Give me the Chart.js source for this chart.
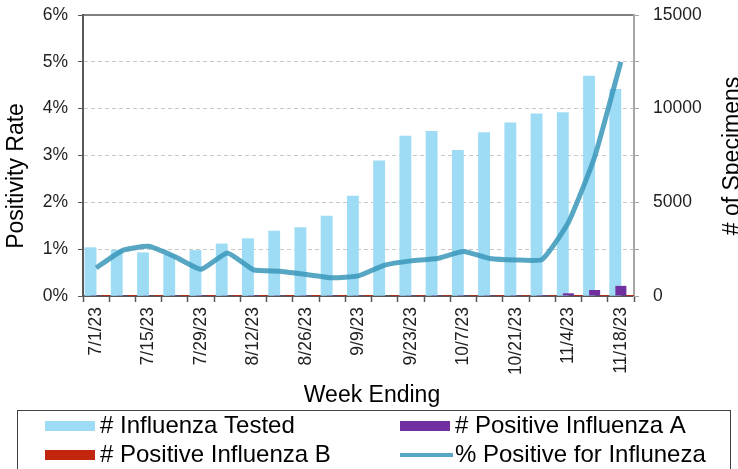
<!DOCTYPE html>
<html lang="en">
<head>
  <meta charset="UTF-8">
  <title>Influenza Positivity by Week</title>
  <script src="https://cdn.jsdelivr.net/npm/chart.js"></script>
  <style>
    body { margin: 0; background: #fff; }
    canvas { display: block; }
  </style>
</head>
<body>
  <canvas id="flu-chart" width="738" height="469"></canvas>

  <script>
    // week ending dates (every week), only every other one gets a label
    const weeks = ['7/1/23', '7/8/23', '7/15/23', '7/22/23', '7/29/23', '8/5/23', '8/12/23',
      '8/19/23', '8/26/23', '9/2/23', '9/9/23', '9/16/23', '9/23/23', '9/30/23', '10/7/23',
      '10/14/23', '10/21/23', '10/28/23', '11/4/23', '11/11/23', '11/18/23'];
    const shownWeeks = ['7/1/23', '7/15/23', '7/29/23', '8/12/23', '8/26/23', '9/9/23',
      '9/23/23', '10/7/23', '10/21/23', '11/4/23', '11/18/23'];

    const tested = [2580, 2450, 2310, 2200, 2430, 2780, 3060, 3470, 3650, 4270, 5340,
      7220, 8540, 8790, 7780, 8720, 9250, 9720, 9790, 11740, 11030];
    const positiveA = [9, 14, 15, 11, 8, 16, 10, 11, 10, 9, 14,
      30, 40, 45, 48, 44, 45, 50, 145, 320, 540];
    const positiveB = [6, 10, 10, 7, 6, 10, 7, 7, 7, 8, 9,
      18, 24, 25, 26, 26, 26, 26, 10, 20, 12];
    const percentPositive = [0.60, 0.97, 1.06, 0.84, 0.57, 0.92, 0.56, 0.53, 0.46, 0.39, 0.43,
      0.66, 0.75, 0.80, 0.95, 0.80, 0.77, 0.78, 1.57, 2.97, 5.00];

    const countLabels = [0, 5000, 10000, 15000];

    const FONT = "'Liberation Sans', Arial, sans-serif";
    Chart.defaults.font.family = FONT;
    Chart.defaults.color = '#1f1f1f';

    // keep the plot box where the original has it (no label overhang padding)
    function noOverhang(scale) {
      scale.paddingTop = 0;
      scale.paddingBottom = 0;
      scale.paddingLeft = 0;
      scale.paddingRight = 0;
    }

    // axis titles + boxed two-column legend, drawn the way the original has them
    const frameText = {
      id: 'frameText',
      afterDraw(chart) {
        const ctx = chart.ctx;
        const s = chart.scales;
        ctx.save();
        ctx.fillStyle = '#000';
        ctx.textAlign = 'center';
        ctx.textBaseline = 'alphabetic';
        ctx.font = '23px ' + FONT;

        ctx.save();
        ctx.translate(23, 176);
        ctx.rotate(-Math.PI / 2);
        ctx.fillText(s.y.options.title.text, 0, 0);
        ctx.restore();

        ctx.save();
        ctx.translate(739, 156);
        ctx.rotate(-Math.PI / 2);
        ctx.fillText(s.y1.options.title.text, 0, 0);
        ctx.restore();

        ctx.fillText(s.x.options.title.text, 372, 402);

        // legend
        ctx.strokeStyle = '#404040';
        ctx.lineWidth = 1;
        ctx.strokeRect(17.5, 410.5, 713, 80);

        const items = chart.data.datasets.filter(d => d.label);
        const colX = [45, 400];
        const rowY = [426, 455];
        ctx.font = '24px ' + FONT;
        ctx.textAlign = 'left';
        items.forEach((d, k) => {
          const x = colX[k % 2];
          const y = rowY[Math.floor(k / 2)];
          if (d.type === 'line') {
            ctx.strokeStyle = d.borderColor;
            ctx.lineWidth = 4;
            ctx.beginPath();
            ctx.moveTo(x, y);
            ctx.lineTo(x + 53, y);
            ctx.stroke();
          } else {
            ctx.fillStyle = d.backgroundColor;
            ctx.fillRect(x, y - 5, 50, 10);
          }
          ctx.fillStyle = '#000';
          ctx.fillText(d.label, x + 55, y + 6.5);
        });
        ctx.restore();
      }
    };

    new Chart(document.getElementById('flu-chart'), {
      data: {
        labels: weeks,
        datasets: [
          // tested and B are grouped (tested left of centre, B right);
          // A is not grouped so it sits on the week centre, over the tested bar
          {
            type: 'bar', label: '# Influenza Tested', data: tested,
            backgroundColor: '#9ddcf4', yAxisID: 'y1',
            barThickness: 11.2, order: 2
          },
          {
            type: 'bar', label: '# Positive Influenza A', data: positiveA,
            backgroundColor: '#7030a0', yAxisID: 'y1',
            grouped: false, maxBarThickness: 11, order: 1
          },
          {
            type: 'bar', label: '# Positive Influenza B', data: positiveB,
            backgroundColor: '#c3260f', yAxisID: 'y1',
            barThickness: 19.6, maxBarThickness: 8, order: 2
          },
          {
            type: 'line', label: '% Positive for Influneza', data: percentPositive,
            borderColor: 'rgba(58, 150, 186, 0.85)', borderWidth: 5,
            pointRadius: 0, tension: 0.15, yAxisID: 'y', order: 0
          }
        ]
      },
      options: {
        responsive: false,
        animation: false,
        layout: { padding: { top: 15, left: 0, right: 0, bottom: 0 } },
        plugins: {
          legend: { display: false },
          tooltip: { enabled: false }
        },
        scales: {
          x: {
            type: 'category',
            position: 'bottom',
            offset: true,
            title: { display: false, text: 'Week Ending' },
            grid: { offset: true, drawOnChartArea: false, tickLength: 6, tickColor: '#595959', tickWidth: 1.5 },
            border: { color: '#595959', width: 2 },
            ticks: {
              autoSkip: false, minRotation: 90, maxRotation: 90, padding: 5,
              font: { size: 17.5 }, color: '#1f1f1f',
              callback: function (value) {
                const label = this.getLabelForValue(value);
                return shownWeeks.includes(label) ? label : '';
              }
            },
            afterFit: scale => { scale.height = 173; noOverhang(scale); }
          },
          // only draws the top frame line
          x2: {
            type: 'category',
            position: 'top',
            offset: true,
            grid: { offset: true, drawOnChartArea: false, drawTicks: false },
            border: { color: '#808080', width: 2 },
            ticks: { display: false },
            afterFit: scale => { scale.height = 0; noOverhang(scale); }
          },
          y: {
            position: 'left',
            min: 0, max: 6,
            title: { display: false, text: 'Positivity Rate' },
            grid: { color: '#c8c8c8', tickLength: 5, tickColor: '#595959', tickBorderDash: [] },
            border: { color: '#595959', width: 2, dash: [4, 3] },
            ticks: {
              stepSize: 1, padding: 10, font: { size: 17.5 }, color: '#1f1f1f',
              callback: v => v + '%'
            },
            afterFit: scale => { scale.width = 83; noOverhang(scale); }
          },
          y1: {
            position: 'right',
            min: 0, max: 15000,
            title: { display: false, text: '# of Specimens' },
            grid: { drawOnChartArea: false, tickLength: 5, tickColor: '#a6a6a6' },
            border: { color: '#a6a6a6', width: 2 },
            ticks: {
              stepSize: 2500, padding: 14, font: { size: 17.5 }, color: '#1f1f1f',
              callback: v => countLabels.includes(v) ? String(v) : ''
            },
            afterFit: scale => { scale.width = 104; noOverhang(scale); }
          }
        }
      },
      plugins: [frameText]
    });
  </script>
</body>
</html>
